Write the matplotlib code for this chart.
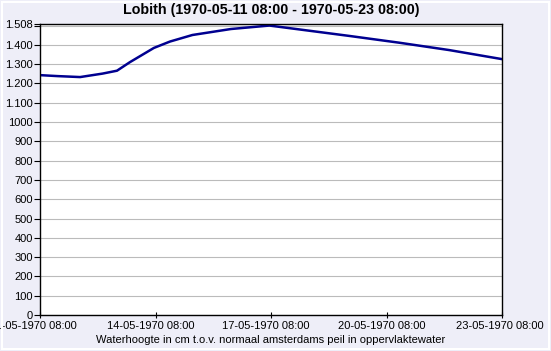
import numpy as np
import pandas as pd
import matplotlib
matplotlib.use("Agg")
import matplotlib.pyplot as plt
import matplotlib.dates as mdates
import matplotlib.transforms as mtransforms
from matplotlib.patches import Rectangle

# readings
times = ["1970-05-11 08:00", "1970-05-11 19:00", "1970-05-12 09:00", "1970-05-12 23:00",
         "1970-05-13 08:00", "1970-05-13 16:00", "1970-05-14 07:00", "1970-05-14 17:00",
         "1970-05-15 07:00", "1970-05-16 07:00", "1970-05-17 07:00", "1970-05-19 09:00",
         "1970-05-20 16:00", "1970-05-21 23:00", "1970-05-23 08:00"]
levels = [1243, 1238, 1233, 1251, 1266, 1310, 1384, 1417, 1451, 1482, 1500, 1446,
          1411, 1373, 1326]

y_ticks = [0, 100, 200, 300, 400, 500, 600, 700, 800, 900, 1000,
           1100, 1200, 1300, 1400, 1500, 1508]
y_labels = ["0", "100", "200", "300", "400", "500", "600", "700", "800", "900", "1000",
            "1.100", "1.200", "1.300", "1.400", "", "1.508"]
x_ticks = ["1970-05-11 08:00", "1970-05-14 08:00", "1970-05-17 08:00",
           "1970-05-20 08:00", "1970-05-23 08:00"]

t = pd.to_datetime(times)
xt = pd.to_datetime(x_ticks)

plt.rcParams['font.family'] = ['Liberation Sans', 'DejaVu Sans']

fig = plt.figure(figsize=(5.51, 3.51), dpi=100, facecolor='#EEEEF8')
# thin white frame around the picture
fig.patches.append(Rectangle((2/551, 2/351), 547/551, 347/351, transform=fig.transFigure,
                             fill=False, edgecolor='white', linewidth=1.5))
ax = fig.add_axes([40/551, 1-315/351, 462/551, 291/351])
ax.set_facecolor('white')

ax.plot(t, levels, color='#000090', linewidth=1.8)

ax.set_xlim(xt[0], xt[-1])
ax.set_ylim(0, 1508)
ax.set_yticks(y_ticks)
ax.set_yticklabels(y_labels, fontsize=8)
ax.set_xticks(xt)
ax.xaxis.set_major_formatter(mdates.DateFormatter('%d-%m-%Y %H:%M'))
ax.tick_params(axis='x', labelsize=8, direction='inout', length=5, pad=2)
ax.tick_params(axis='y', length=4, pad=1)
ax.grid(axis='y', color='#BBBBBB', linewidth=0.8)
ax.set_axisbelow(True)
for s in ax.spines.values():
    s.set_color('black')
    s.set_linewidth(1.0)

# date labels sit a little left of their ticks, the last one kept inside the picture
shifts = [-6.5, -5, -5, -5, -2]
for lab, dx in zip(ax.get_xticklabels(), shifts):
    lab.set_transform(lab.get_transform() + mtransforms.ScaledTranslation(dx/100, 0, fig.dpi_scale_trans))

ax.set_title('Lobith (1970-05-11 08:00 - 1970-05-23 08:00)', fontsize=10.3,
             fontweight='bold', pad=7)
ax.set_xlabel('Waterhoogte in cm t.o.v. normaal amsterdams peil in oppervlaktewater',
              fontsize=8, labelpad=3)

fig.savefig('out.png', dpi=100, facecolor=fig.get_facecolor())
